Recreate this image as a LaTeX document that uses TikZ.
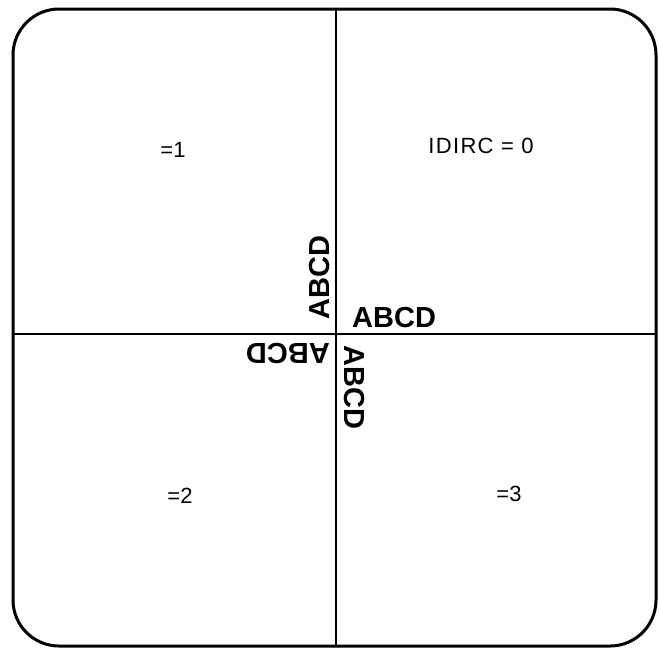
\documentclass[tikz,border=0pt]{standalone}
\usepackage{fontspec}
\setmainfont{Liberation Sans}
\begin{document}
\begin{tikzpicture}[x=1pt,y=-1pt,
  frame/.style={line width=3pt, rounded corners=46pt},
  divider/.style={line width=1.8pt},
  label/.style={font=\fontsize{22}{26}\selectfont, inner sep=0pt},
  bigtext/.style={font=\fontsize{29}{34}\selectfont\bfseries, inner sep=0pt, anchor=base west}]
\useasboundingbox (0,0) rectangle (659,649);
\draw[frame] (13,9) rectangle (656,646);
\coordinate (top) at (336,9);
\coordinate (bot) at (336,646);
\coordinate (lft) at (13,334);
\coordinate (rgt) at (656,334);
\draw[divider] (top) -- (bot);
\draw[divider] (lft) -- (rgt);
\node[label] (q1) at (173,150) {=1};
\node[label] (q0) at (481,146) {\addfontfeatures{LetterSpace=6}IDIRC = 0};
\node[label] (q2) at (180,496) {=2};
\node[label] (q3) at (509,494) {=3};
\node[bigtext] (t0) at (352,327) {ABCD};
\node[bigtext, rotate=90] (t90) at (329,320) {ABCD};
\node[bigtext, rotate=180] (t180) at (330,343) {ABCD};
\node[bigtext, rotate=270] (t270) at (344,345) {ABCD};
\end{tikzpicture}
\end{document}
